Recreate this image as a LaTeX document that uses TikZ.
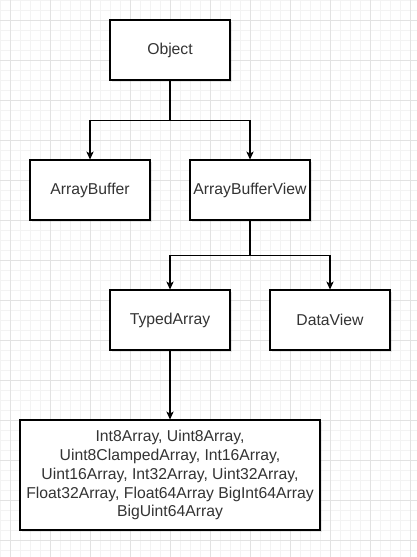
\documentclass[tikz,border=0pt]{standalone}
\usepackage{fontspec}
\setmainfont{Liberation Sans}
\usepackage{xcolor}
\usetikzlibrary{arrows.meta}
\usetikzlibrary{shadows}

\definecolor{gridmajor}{HTML}{E2E2E2}
\definecolor{gridminor}{HTML}{F3F3F3}
\definecolor{textgray}{HTML}{333333}

\tikzset{
  box/.style={draw,line width=0.8pt,fill=white,text=textgray,
    minimum width=90pt,minimum height=45pt,inner sep=2pt,
    font=\fontsize{11.8}{14.2}\selectfont,
    drop shadow={shadow xshift=1.8pt,shadow yshift=-1.8pt,opacity=0.18}},
  arr/.style={line width=0.8pt,-{Stealth[length=6pt,width=5.5pt,inset=1.6pt]}}
}

\begin{document}
\begin{tikzpicture}[x=0.75pt,y=-0.75pt]
\useasboundingbox (0,0) rectangle (417,557);
% grid
\foreach \x in {0,10,...,410} \draw[gridminor,line width=0.6pt] (\x,0) -- (\x,557);
\foreach \y in {0,10,...,550} \draw[gridminor,line width=0.6pt] (0,\y) -- (417,\y);
\foreach \x in {10,50,...,410} \draw[gridmajor,line width=0.75pt] (\x,0) -- (\x,557);
\foreach \y in {20,60,...,540} \draw[gridmajor,line width=0.75pt] (0,\y) -- (417,\y);

\node[box] (obj) at (170,50) {Object};
\node[box] (ab) at (90,190) {ArrayBuffer};
\node[box] (abv) at (250,190) {ArrayBufferView};
\node[box] (ta) at (170,320) {TypedArray};
\node[box] (dv) at (330,320) {DataView};
\node[box,minimum width=225pt,minimum height=82.5pt,align=center] (all) at (170,475)
  {Int8Array, Uint8Array,\\ Uint8ClampedArray, Int16Array,\\ Uint16Array, Int32Array, Uint32Array,\\ Float32Array, Float64Array BigInt64Array\\ BigUint64Array};

\draw[arr] (obj.south) -- ++(0,40) -| (ab.north);
\draw[arr] (obj.south) -- ++(0,40) -| (abv.north);
\draw[arr] (abv.south) -- ++(0,35) -| (ta.north);
\draw[arr] (abv.south) -- ++(0,35) -| (dv.north);
\draw[arr] (ta.south) -- (all.north);
\end{tikzpicture}
\end{document}
